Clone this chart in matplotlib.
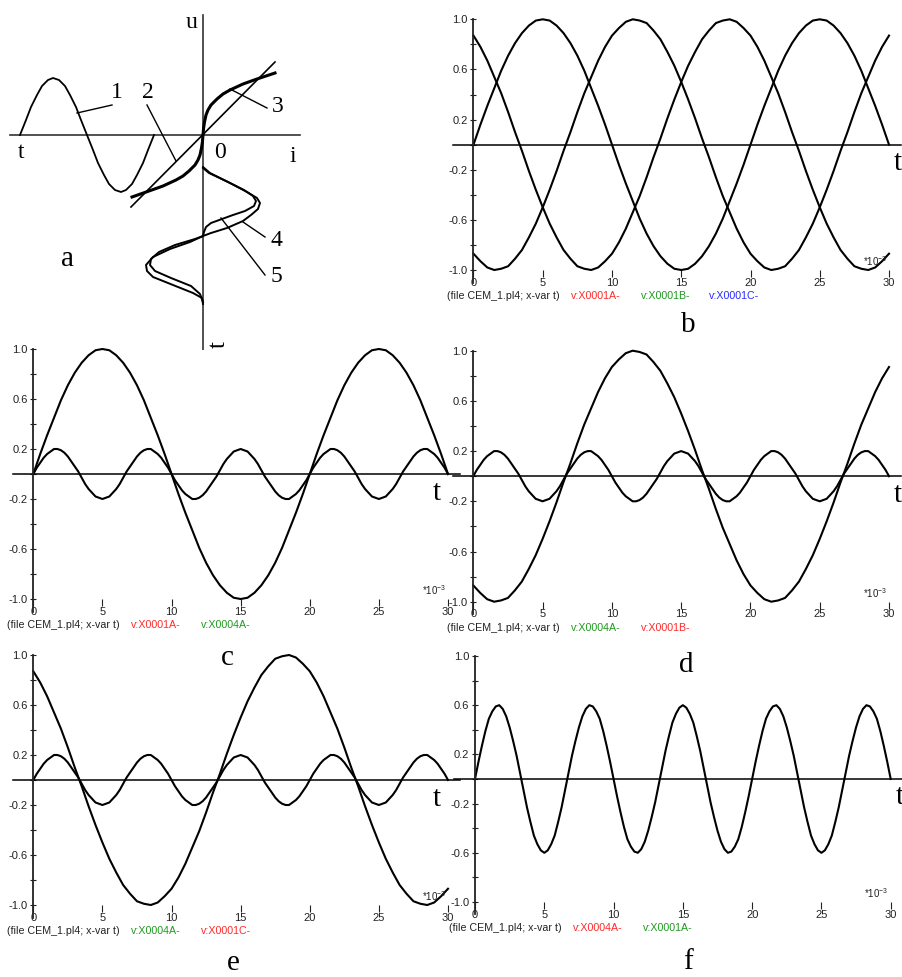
import numpy as np
import matplotlib.pyplot as plt

plt.rcParams['font.family'] = ['Liberation Sans', 'DejaVu Sans']
plt.rcParams['mathtext.default'] = 'regular'
SERIF = ['Liberation Serif', 'DejaVu Serif']

# ATP samples, time in ms: 0.5 ms step for the 50 Hz phases, 0.25 ms for the 150 Hz ones
t_ms = np.linspace(0, 30, 61)
t_fine = np.linspace(0, 30, 121)

v_a = [0, .16, .31, .45, .59, .71, .81, .89, .95, .99, 1.0, .99, .95, .89, .81, .71, .59, .45, .31, .16, 0,
       -.16, -.31, -.45, -.59, -.71, -.81, -.89, -.95, -.99, -1.0, -.99, -.95, -.89, -.81, -.71, -.59, -.45, -.31, -.16, 0,
       .16, .31, .45, .59, .71, .81, .89, .95, .99, 1.0, .99, .95, .89, .81, .71, .59, .45, .31, .16, 0]
v_b = [-.87, -.93, -.98, -1.0, -.99, -.97, -.91, -.84, -.74, -.63, -.50, -.36, -.21, -.05, .10, .26, .41, .54, .67, .78, .87,
       .93, .98, 1.0, .99, .97, .91, .84, .74, .63, .50, .36, .21, .05, -.10, -.26, -.41, -.54, -.67, -.78, -.87,
       -.93, -.98, -1.0, -.99, -.97, -.91, -.84, -.74, -.63, -.50, -.36, -.21, -.05, .10, .26, .41, .54, .67, .78, .87]
v_c = [.87, .78, .67, .54, .41, .26, .10, -.05, -.21, -.36, -.50, -.63, -.74, -.84, -.91, -.97, -.99, -1.0, -.98, -.93, -.87,
       -.78, -.67, -.54, -.41, -.26, -.10, .05, .21, .36, .50, .63, .74, .84, .91, .97, .99, 1.0, .98, .93, .87,
       .78, .67, .54, .41, .26, .10, -.05, -.21, -.36, -.50, -.63, -.74, -.84, -.91, -.97, -.99, -1.0, -.98, -.93, -.87]
v_4a = [0, .05, .09, .13, .16, .18, .20, .20, .19, .17, .14, .10, .06, .02, -.03, -.08, -.12, -.15, -.18, -.19, -.20,
        -.19, -.18, -.15, -.12, -.08, -.03, .02, .06, .10, .14, .17, .19, .20, .20, .18, .16, .13, .09, .05, 0,
        -.05, -.09, -.13, -.16, -.18, -.20, -.20, -.19, -.17, -.14, -.10, -.06, -.02, .03, .08, .12, .15, .18, .19, .20,
        .19, .18, .15, .12, .08, .03, -.02, -.06, -.10, -.14, -.17, -.19, -.20, -.20, -.18, -.16, -.13, -.09, -.05, 0,
        .05, .09, .13, .16, .18, .20, .20, .19, .17, .14, .10, .06, .02, -.03, -.08, -.12, -.15, -.18, -.19, -.20,
        -.19, -.18, -.15, -.12, -.08, -.03, .02, .06, .10, .14, .17, .19, .20, .20, .18, .16, .13, .09, .05, 0]
v_f = [0, .14, .27, .39, .49, .55, .59, .60, .57, .51, .42, .31, .19, .05, -.09, -.23, -.35, -.46, -.53, -.58, -.60,
       -.58, -.53, -.46, -.35, -.23, -.09, .05, .19, .31, .42, .51, .57, .60, .59, .55, .49, .39, .27, .14, 0,
       -.14, -.27, -.39, -.49, -.55, -.59, -.60, -.57, -.51, -.42, -.31, -.19, -.05, .09, .23, .35, .46, .53, .58, .60,
       .58, .53, .46, .35, .23, .09, -.05, -.19, -.31, -.42, -.51, -.57, -.60, -.59, -.55, -.49, -.39, -.27, -.14, 0,
       .14, .27, .39, .49, .55, .59, .60, .57, .51, .42, .31, .19, .05, -.09, -.23, -.35, -.46, -.53, -.58, -.60,
       -.58, -.53, -.46, -.35, -.23, -.09, .05, .19, .31, .42, .51, .57, .60, .59, .55, .49, .39, .27, .14, 0]

x_ticks = [0, 5, 10, 15, 20, 25, 30]
y_ticks = [1.0, 0.8, 0.6, 0.4, 0.2, 0.0, -0.2, -0.4, -0.6, -0.8, -1.0]
y_labels = ['1.0', '', '0.6', '', '0.2', '', '-0.2', '', '-0.6', '', '-1.0']

RED, GREEN, BLUE = '#ff2a2a', '#1f9a1f', '#2a2aff'

# sketch a: u-i characteristic and waveforms
c1_i = [-183, -177, -172, -166, -161, -155, -150, -144, -138, -133, -127, -122, -116,
        -110, -105, -99, -94, -88, -82, -77, -71, -66, -60, -55, -49]
c1_u = [0, 15, 28, 40, 49, 55, 57, 55, 49, 40, 28, 15, 0,
        -15, -28, -40, -49, -55, -57, -55, -49, -40, -28, -15, 0]
c2_i = [-72, 72]
c2_u = [-72, 73]
c3_i = [-71, -54, -40, -27, -20, -14, -8, -5, -3, -1.5, -0.6, 0, 0.6, 1.5, 3, 5, 8, 14, 20, 27, 40, 54, 72]
c3_u = [-62, -56, -51, -45, -41, -36, -30, -25, -20, -13, -7, 0, 7, 13, 20, 25, 30, 36, 41, 45, 51, 56, 62]
c4_i = [0, 7, 27, 44, 54, 57, 55, 48, 40, 24, 8, 0, -13, -33, -50, -57, -56, -50, -30, -10, -1, 0]
c4_u = [-32, -38, -48, -57, -63, -68, -74, -80, -86, -93, -98, -101, -107, -114, -122, -130, -136, -142, -150, -158, -163, -169]
c5_i = [0, 6, 25, 41, 50, 53, 51, 42, 30, 19, 8, 3, 1, 0, -8, -28, -44, -52, -53, -48, -32, -12, -3, 0]
c5_u = [-33, -38, -47, -55, -61, -66, -71, -76, -80, -84, -88, -92, -97, -101, -104, -110, -117, -124, -130, -136, -143, -151, -159, -167]

W, H = 902, 977
fig = plt.figure(figsize=(W / 100, H / 100), dpi=100)


def box(l, r, t, b):
    return [l / W, 1 - b / H, (r - l) / W, (b - t) / H]


def atp_panel(rect, series, names, colors, t_x):
    ax = fig.add_axes(rect)
    ax.set_xlim(0, 30)
    ax.set_ylim(-1, 1)
    for tt, s in series:
        ax.plot(tt, s, color='k', lw=1.5, clip_on=False)
    ax.plot([-1.5, 30.9], [0, 0], color='k', lw=1.1, clip_on=False)
    ax.plot([0, 0], [-1.1, 1.0], color='#222', lw=1.3, clip_on=False)
    for sp in ax.spines.values():
        sp.set_visible(False)
    ax.set_xticks(x_ticks)
    ax.set_xticklabels([str(v) for v in x_ticks])
    ax.set_yticks(y_ticks)
    ax.set_yticklabels(y_labels)
    ax.tick_params(axis='x', direction='out', length=5, width=0.8, pad=0.5, labelsize=8, colors='#222')
    ax.tick_params(axis='y', direction='inout', length=5, width=0.8, pad=1.5, labelsize=8, colors='#222')
    ax.text(28.1, -0.93, '*10$^{-3}$', fontsize=7, color='#222', va='center')
    ax.text(-1.9, -1.21, '(file CEM_1.pl4; x-var t)', fontsize=7.7, color='#222', va='center', clip_on=False)
    for x, name, col in zip([7.05, 12.1, 17.0], names, colors):
        ax.text(x, -1.21, name, fontsize=7.7, color=col, va='center', clip_on=False)
    ax.text(t_x, -0.15, 't', family=SERIF, fontsize=21, ha='center', va='center', clip_on=False)
    return ax


atp_panel(box(473.5, 889, 19.3, 270), [(t_ms, v_a), (t_ms, v_b), (t_ms, v_c)],
          ['v:X0001A-', 'v:X0001B-', 'v:X0001C-'], [RED, GREEN, BLUE], 30.65)
atp_panel(box(33.3, 448, 349, 599), [(t_ms, v_a), (t_fine, v_4a)],
          ['v:X0001A-', 'v:X0004A-'], [RED, GREEN], 29.2)
atp_panel(box(473.3, 889, 350.7, 601.7), [(t_ms, v_b), (t_fine, v_4a)],
          ['v:X0004A-', 'v:X0001B-'], [GREEN, RED], 30.65)
atp_panel(box(33.3, 448, 655, 905), [(t_ms, v_c), (t_fine, v_4a)],
          ['v:X0004A-', 'v:X0001C-'], [GREEN, RED], 29.2)
atp_panel(box(475, 890.7, 656, 902), [(t_fine, v_f)],
          ['v:X0004A-', 'v:X0001A-'], [RED, GREEN], 30.65)

# panel a
ax = fig.add_axes(box(0, 310, 0, 350))
ax.set_xlim(-203, 107)
ax.set_ylim(-215, 135)
ax.axis('off')
ax.plot([-193, 97], [0, 0], color='#333', lw=1.2)
ax.plot([0, 0], [120, -215], color='#333', lw=1.2)
ax.plot(c1_i, c1_u, color='k', lw=1.3)
ax.plot(c2_i, c2_u, color='k', lw=1.2)
ax.plot(c3_i, c3_u, color='k', lw=2.2)
ax.plot(c4_i, c4_u, color='k', lw=1.4)
ax.plot(c5_i, c5_u, color='k', lw=1.4)

leaders = [((-126, 22), (-91, 30)), ((-56, 30), (-27, -26)), ((27, 46), (64, 27)),
           ((40, -87), (62, -102)), ((18, -83), (62, -140))]
for (x0, y0), (x1, y1) in leaders:
    ax.plot([x0, x1], [y0, y1], color='k', lw=1.0)

for x, y, s in [(-11, 113, 'u'), (-182, -18, 't'), (17, -18, '0'), (90, -22, 'i'),
                (-86, 43, '1'), (-55, 43, '2'), (75, 28, '3'), (73, -106, '4'), (73, -141, '5')]:
    ax.text(x, y, s, family=SERIF, fontsize=17, ha='center', va='center')
ax.text(-135, -124, 'a', family=SERIF, fontsize=21, ha='center', va='center')
ax.text(16, -210, 't', family=SERIF, fontsize=18, ha='center', va='center', rotation=90, clip_on=True)

for x, y, s in [(688, 325, 'b'), (227, 658, 'c'), (686, 665, 'd'), (233, 963, 'e'), (688, 962, 'f')]:
    fig.text(x / W, 1 - y / H, s, family=SERIF, fontsize=21, ha='center', va='center')

fig.savefig('out.png', dpi=100)
